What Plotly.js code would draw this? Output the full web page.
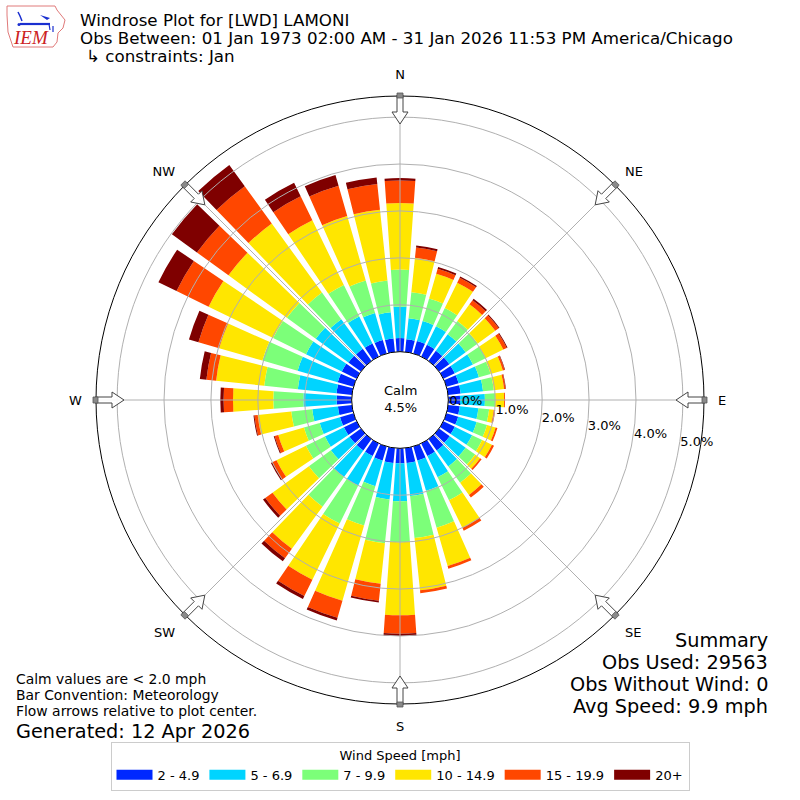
<!DOCTYPE html>
<html>
<head>
<meta charset="utf-8">
<script src="https://cdn.plot.ly/plotly-3.0.1.min.js"></script>
<style>html,body{margin:0;padding:0;background:#fff;}</style>
</head>
<body>
<div id="chart" style="width:800px;height:800px;"></div>
<script>
// ---------------- data (percent of observations) ----------------
const directions = [0,10,20,30,40,50,60,70,80,90,100,110,120,130,140,150,160,170,
                    180,190,200,210,220,230,240,250,260,270,280,290,300,310,320,330,340,350];
const compassLabels = ["N","NE","E","SE","S","SW","W","NW"];
const compassAngles = [0,45,90,135,180,225,270,315];
const speedBins = ["2 - 4.9","5 - 6.9","7 - 9.9","10 - 14.9","15 - 19.9","20+"];

const speed_2_5   = [0.29,0.27,0.28,0.28,0.27,0.27,0.27,0.27,0.27,0.25,0.25,0.26,0.27,0.28,0.30,0.30,0.31,0.32,
                     0.32,0.32,0.31,0.30,0.30,0.30,0.30,0.30,0.30,0.32,0.33,0.35,0.35,0.33,0.32,0.31,0.30,0.29];
const speed_5_7   = [0.67,0.45,0.44,0.44,0.43,0.43,0.43,0.45,0.48,0.53,0.40,0.41,0.41,0.42,0.42,0.50,0.67,0.71,
                     0.81,0.78,0.57,0.70,0.70,0.49,0.45,0.45,0.55,0.71,0.83,0.89,0.85,0.86,0.78,0.64,0.60,0.56];
const speed_7_10  = [0.79,0.56,0.50,0.43,0.35,0.32,0.30,0.26,0.23,0.22,0.23,0.23,0.24,0.25,0.43,0.55,0.82,0.90,
                     0.87,0.94,0.87,0.90,0.78,0.58,0.45,0.35,0.45,0.64,0.72,0.78,0.78,0.76,0.70,0.75,0.72,0.68];
const speed_10_15 = [1.42,0.74,0.55,0.60,0.44,0.46,0.42,0.27,0.22,0.19,0.10,0.19,0.23,0.13,0.32,0.65,0.85,1.12,
                     1.56,0.87,1.67,1.33,1.11,0.96,0.70,0.57,0.72,0.86,1.03,0.96,1.53,1.54,1.82,1.53,1.43,1.52];
const speed_15_20 = [0.48,0.22,0.11,0.12,0.11,0.09,0.08,0.04,0.03,0.02,0.03,0.04,0.05,0.04,0.07,0.07,0.06,0.06,
                     0.39,0.36,0.38,0.39,0.25,0.19,0.10,0.08,0.07,0.20,0.21,0.46,0.76,0.83,0.98,0.57,0.67,0.55];
const speed_20p   = [0.05,0.04,0.04,0.03,0.04,0.02,0.02,0.01,0.01,0.00,0.00,0.00,0.00,0.00,0.00,0.00,0.00,0.00,
                     0.05,0.04,0.06,0.07,0.08,0.06,0.03,0.02,0.02,0.07,0.14,0.21,0.43,0.66,0.56,0.32,0.24,0.14];
const seriesValues = [speed_2_5, speed_5_7, speed_7_10, speed_10_15, speed_15_20, speed_20p];

const radialTicks = [0,1,2,3,4,5];
const radialTickText = ["0.0%","1.0%","2.0%","3.0%","4.0%","5.0%"];
const calmPercent = "4.5%";
const titleLines = ["Windrose Plot for [LWD] LAMONI",
                    "Obs Between: 01 Jan 1973 02:00 AM - 31 Jan 2026 11:53 PM America/Chicago",
                    "\u21b3 constraints: Jan"];
const noteLines = ["Calm values are < 2.0 mph","Bar Convention: Meteorology","Flow arrows relative to plot center."];
const generatedText = "Generated: 12 Apr 2026";
const summaryLines = ["Summary","Obs Used: 29563","Obs Without Wind: 0","Avg Speed: 9.9 mph"];

// ---------------- styles ----------------
const binColors = ["#0028ff","#00d4ff","#7cff79","#ffe600","#ff4700","#7f0000"];
const FONT = "DejaVu Sans, Liberation Sans, sans-serif";
const W = 800, H = 800;
const RMAX = 5.45;
const HOLE = 0.159;
const DOMAIN = [0.12, 0.88];

const traces = speedBins.map((name, i) => ({
  type: 'barpolar',
  name: name,
  legendgroup: name,
  showlegend: false,
  r: seriesValues[i],
  theta: directions,
  width: 8,
  marker: {color: binColors[i], line: {width: 0}},
  subplot: 'polar',
  hoverinfo: 'skip'
}));
// overlay subplot that carries the grid on top of the bars, plus legend keys (wide patches, no marks)
traces.push({type:'scatterpolar', subplot:'polar2', r:[null], theta:[null], mode:'markers',
             showlegend:false, hoverinfo:'skip'});
speedBins.forEach((name, i) => traces.push({
  type:'scatterpolar', subplot:'polar2', r:[null], theta:[null], mode:'lines', name: name,
  legendgroup: name, line:{color: binColors[i], width:10}, hoverinfo:'skip'
}));

// ---------- arrows at the compass points (decoration) ----------
function px2paper(x, y){ return [x / W, 1 - y / H]; }
function arrowShapes(aDeg){
  const a = aDeg * Math.PI / 180;
  const u = [Math.sin(a), -Math.cos(a)];
  const p = [Math.cos(a), Math.sin(a)];
  const pt = (s, t) => px2paper(400 + u[0]*s + p[0]*t, 400 + u[1]*s + p[1]*t);
  const body = [[276,0],[288,8],[288,3],[305,3],[305,-3],[288,-3],[288,-8]];
  const tail = [[302,3],[307,3],[307,-3],[302,-3]];
  const mk = arr => 'M ' + arr.map(q => pt(q[0], q[1]).join(',')).join(' L ') + ' Z';
  return [
    {type:'path', xref:'paper', yref:'paper', path: mk(body), fillcolor:'rgba(255,255,255,0.9)',
     line:{color:'#444444', width:1}, layer:'above'},
    {type:'path', xref:'paper', yref:'paper', path: mk(tail), fillcolor:'#8a8a8a',
     line:{color:'#555555', width:0.8}, layer:'above'}
  ];
}
const shapes = [];
compassAngles.forEach(a => shapes.push(...arrowShapes(a)));

// ---------- annotations ----------
const ann = [];
const addText = (text, xpx, ypx, size, anchor, extra) => ann.push(Object.assign({
  text: text, xref:'paper', yref:'paper', x: xpx / W, y: 1 - ypx / H,
  xanchor: anchor, yanchor:'middle', showarrow:false, borderpad:0,
  font:{family: FONT, size: size, color:'#000'}
}, extra || {}));
addText(titleLines[0], 79, 20, 16.7, 'left');
addText(titleLines[1], 79, 38, 16.7, 'left');
addText(titleLines[2], 85, 56, 16.7, 'left');
noteLines.forEach((t, i) => addText(t, 15, 679 + 16.2 * i, 13.9, 'left'));
addText(generatedText, 15, 731, 19.3, 'left');
summaryLines.forEach((t, i) => addText(t, 769, 640 + 22 * i, 19.3, 'right'));
addText("Calm<br>" + calmPercent, 400, 399, 13, 'center');
addText("IEM", 31, 37, 18, 'center', {font:{family:"Liberation Serif, DejaVu Serif, serif", size:19, color:'#cc2222', style:'italic'}});

// ---------- IEM logo outline (decoration) ----------
const logoSvg = "<svg xmlns='http://www.w3.org/2000/svg' width='62' height='46' viewBox='0 0 62 46'>" +
  "<path d='M2,1 L50,1 L52,5 L56,10 L60,15 L58,23 L53,28 L52,37 L48,42 L8,42 L3,27 L2,10 Z' fill='none' stroke='#e07a7a' stroke-width='1'/>" +
  "<path d='M15,19 L45,19' stroke='#1a2fd0' stroke-width='2.2'/>" +
  "<path d='M13,7 L15,11 L17,16' stroke='#1a2fd0' stroke-width='1.5' fill='none'/>" +
  "<path d='M35,10 L45,13 L42,15 Z' fill='#1a2fd0'/>" +
  "<path d='M44,19 L45,25 M48,21 L48,27' stroke='#1a2fd0' stroke-width='1.2'/>" +
  "<circle cx='14' cy='19.5' r='1.5' fill='#1a2fd0'/>" +
  "</svg>";
const images = [{
  source: 'data:image/svg+xml;utf8,' + encodeURIComponent(logoSvg),
  xref:'paper', yref:'paper', x: 5 / W, y: 1 - 5 / H, sizex: 62 / W, sizey: 46 / H,
  xanchor:'left', yanchor:'top', sizing:'stretch', layer:'above'
}];

const layout = {
  width: W, height: H,
  margin: {l:0, r:0, t:0, b:0},
  paper_bgcolor: '#fff',
  font: {family: FONT, size: 13, color:'#000'},
  showlegend: true,
  polar: {
    domain: {x: DOMAIN, y: DOMAIN},
    hole: HOLE,
    bgcolor: '#fff',
    barmode: 'stack',
    radialaxis: {range:[0, RMAX], showgrid:false, showline:false, showticklabels:false, ticks:''},
    angularaxis: {rotation:90, direction:'clockwise', showgrid:false, showline:false,
                  showticklabels:false, ticks:''}
  },
  polar2: {
    domain: {x: DOMAIN, y: DOMAIN},
    hole: HOLE,
    bgcolor: 'rgba(0,0,0,0)',
    radialaxis: {range:[0, RMAX], tickvals: radialTicks, ticktext: radialTickText,
                 showgrid:true, gridcolor:'#b0b0b0', gridwidth:1, showline:false, ticks:'',
                 side:'counterclockwise', angle:-10, tickangle:-10,
                 tickfont:{family: FONT, size:13, color:'#000'}},
    angularaxis: {rotation:90, direction:'clockwise', tickmode:'array', tickvals: compassAngles,
                  ticktext: compassLabels, showgrid:true, gridcolor:'#b0b0b0', gridwidth:1,
                  showline:true, linecolor:'#000', linewidth:1, ticks:'outside', ticklen:11,
                  tickcolor:'rgba(0,0,0,0)', tickfont:{family: FONT, size:13, color:'#000'}}
  },
  legend: {
    orientation:'h', x:0.5, xanchor:'center', y: 1 - 742 / H, yanchor:'top',
    bordercolor:'#cccccc', borderwidth:1, bgcolor:'#fff', traceorder:'normal', itemwidth:36,
    font:{family: FONT, size:13, color:'#000'},
    title:{text:'Wind Speed [mph]', side:'top center', font:{family: FONT, size:13}}
  },
  annotations: ann,
  shapes: shapes,
  images: images
};

Plotly.newPlot('chart', traces, layout, {displayModeBar:false, staticPlot:true});
</script>
</body>
</html>
